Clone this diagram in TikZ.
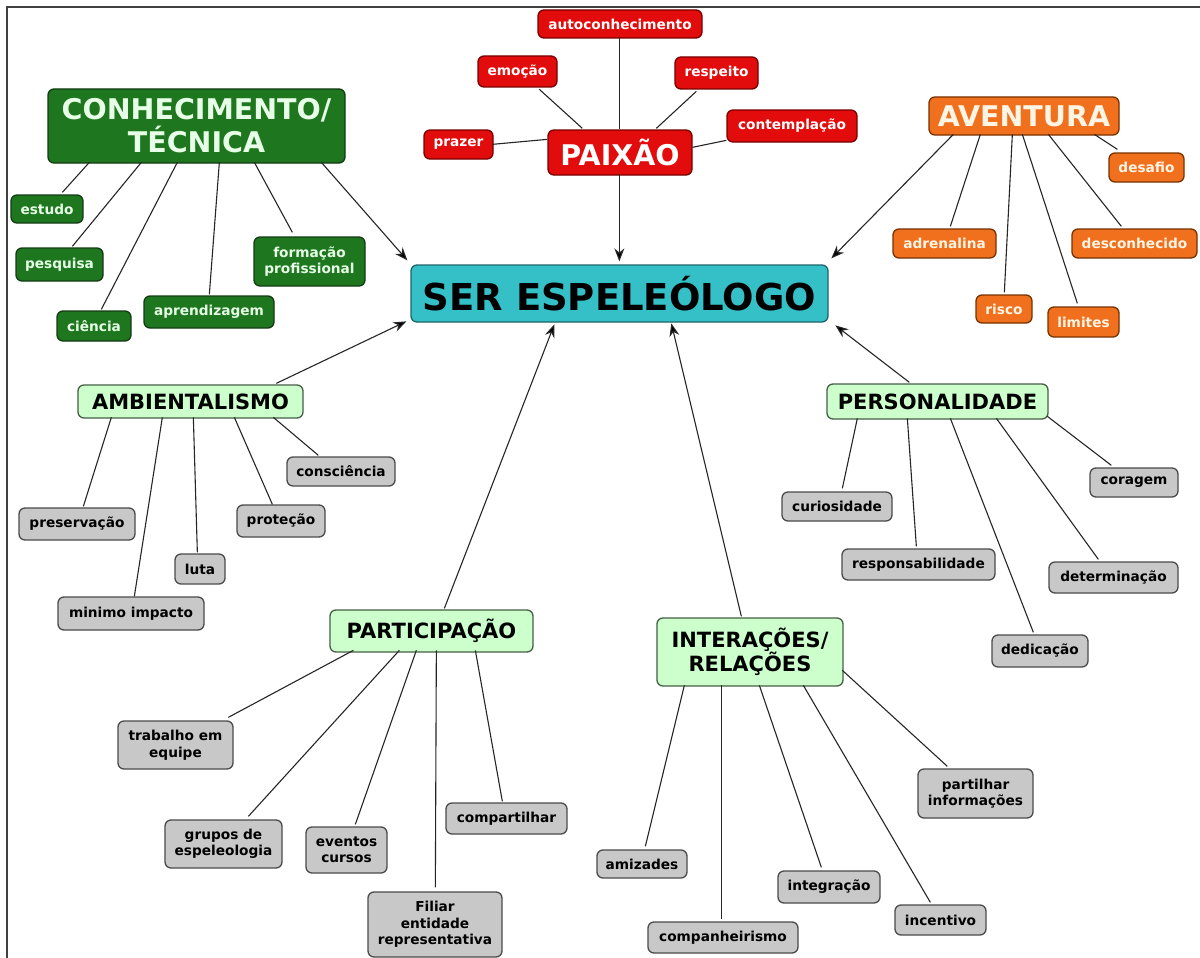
\documentclass[tikz,border=0pt]{standalone}
\usepackage{fontspec}
\setmainfont{DejaVu Sans}
\usetikzlibrary{calc,arrows.meta}
\definecolor{dgF}{RGB}{30,118,30}
\definecolor{dgD}{RGB}{20,60,20}
\definecolor{dgT}{RGB}{230,255,230}
\definecolor{rdF}{RGB}{226,12,12}
\definecolor{rdD}{RGB}{120,0,0}
\definecolor{orF}{RGB}{240,112,30}
\definecolor{orD}{RGB}{120,50,0}
\definecolor{orT}{RGB}{255,245,228}
\definecolor{lgF}{RGB}{204,255,204}
\definecolor{lgD}{RGB}{70,95,70}
\definecolor{gyF}{RGB}{200,200,200}
\definecolor{gyD}{RGB}{75,75,75}
\definecolor{tlF}{RGB}{52,192,198}
\definecolor{tlD}{RGB}{30,100,105}
\tikzset{
  base/.style={rounded corners=6pt, line width=1.3pt, inner sep=0pt, align=center,
    font=\bfseries\fontsize{13.7}{16.5}\selectfont},
  big/.style={font=\bfseries\fontsize{28.5}{33}\selectfont},
  mid/.style={font=\bfseries\fontsize{21}{24}\selectfont},
  huge/.style={font=\bfseries\fontsize{37}{40}\selectfont},
  dgbox/.style={base, fill=dgF, draw=dgD, text=dgT},
  rdbox/.style={base, fill=rdF, draw=rdD, text=white},
  orbox/.style={base, fill=orF, draw=orD, text=orT},
  lgbox/.style={base, fill=lgF, draw=lgD, text=black},
  gybox/.style={base, fill=gyF, draw=gyD, text=black},
  tlbox/.style={base, fill=tlF, draw=tlD, text=black},
  conn/.style={draw=black!85, line width=1.1pt},
  arr/.style={conn, -{Stealth[length=13pt,width=10pt,fill=black]}},
}
\newcommand\bx[7]{\node[#1, minimum width={(#5-#3)*1pt}, minimum height={(#6-#4)*1pt}] (#2) at ({(#3+#5)/2},{(#4+#6)/2}) {#7};}
\newcommand\lk[7][conn]{\draw[#1] ($(#2.north west)+(#3,#4)$) -- ($(#5.north west)+(#6,#7)$);}
\begin{document}
\begin{tikzpicture}[x=1pt,y=-1pt]
\fill[white] (0,0) rectangle (1200,958);
\useasboundingbox (0,0) rectangle (1200,958);
\draw[line width=2pt, black!75] (7,958) -- (7,7) -- (1200,7);

% centre
\bx{tlbox,huge}{ser}{411}{265}{828}{322}{SER ESPELEÓLOGO}

% conhecimento
\bx{dgbox,big}{con}{48}{89}{345}{163}{CONHECIMENTO/\\TÉCNICA}
\bx{dgbox}{estudo}{11}{195}{83}{223}{estudo}
\bx{dgbox}{pesquisa}{16}{248}{103}{281}{pesquisa}
\bx{dgbox}{ciencia}{57}{311}{131}{341}{ciência}
\bx{dgbox}{aprend}{144}{296}{274}{328}{aprendizagem}
\bx{dgbox}{formacao}{254}{237}{365}{286}{formação\\profissional}

% paixao
\bx{rdbox,big}{paixao}{548}{130}{692}{175}{PAIXÃO}
\bx{rdbox}{auto}{538}{10}{702}{38}{autoconhecimento}
\bx{rdbox}{emocao}{478}{56}{557}{87}{emoção}
\bx{rdbox}{respeito}{675}{57}{758}{89}{respeito}
\bx{rdbox}{contemp}{727}{110}{857}{142}{contemplação}
\bx{rdbox}{prazer}{424}{130}{493}{159}{prazer}

% aventura
\bx{orbox,big}{avent}{929}{97}{1119}{135}{AVENTURA}
\bx{orbox}{desafio}{1109}{153}{1184}{182}{desafio}
\bx{orbox}{adren}{893}{229}{996}{258}{adrenalina}
\bx{orbox}{descon}{1072}{229}{1197}{258}{desconhecido}
\bx{orbox}{risco}{976}{295}{1032}{323}{risco}
\bx{orbox}{limites}{1048}{307}{1119}{337}{limites}

% ambientalismo
\bx{lgbox,mid}{amb}{78}{385}{303}{418}{AMBIENTALISMO}
\bx{gybox}{consc}{287}{457}{395}{486}{consciência}
\bx{gybox}{preserv}{19}{508}{135}{540}{preservação}
\bx{gybox}{protecao}{237}{505}{325}{537}{proteção}
\bx{gybox}{luta}{175}{554}{225}{584}{luta}
\bx{gybox}{minimo}{58}{597}{204}{630}{minimo impacto}

% participacao
\bx{lgbox,mid}{part}{330}{610}{533}{652}{PARTICIPAÇÃO}
\bx{gybox}{trab}{118}{721}{233}{769}{trabalho em\\equipe}
\bx{gybox}{grupos}{165}{820}{282}{868}{grupos de\\espeleologia}
\bx{gybox}{eventos}{306}{827}{387}{873}{eventos\\cursos}
\bx{gybox}{compart}{446}{803}{567}{834}{compartilhar}
\bx{gybox}{filiar}{368}{892}{502}{957}{Filiar\\entidade\\representativa}

% interacoes
\bx{lgbox,mid}{inter}{657}{618}{843}{686}{INTERAÇÕES/\\RELAÇÕES}
\bx{gybox}{amiz}{597}{850}{687}{878}{amizades}
\bx{gybox}{compan}{648}{922}{798}{953}{companheirismo}
\bx{gybox}{integ}{778}{871}{880}{903}{integração}
\bx{gybox}{incent}{895}{905}{986}{935}{incentivo}
\bx{gybox}{partil}{918}{769}{1033}{818}{partilhar\\informações}

% personalidade
\bx{lgbox,mid}{pers}{827}{384}{1048}{419}{PERSONALIDADE}
\bx{gybox}{curios}{782}{492}{892}{521}{curiosidade}
\bx{gybox}{respon}{842}{549}{995}{580}{responsabilidade}
\bx{gybox}{coragem}{1090}{468}{1178}{497}{coragem}
\bx{gybox}{determ}{1049}{562}{1178}{593}{determinação}
\bx{gybox}{dedic}{992}{635}{1088}{667}{dedicação}

% links conhecimento
\lk{con}{42}{74}{estudo}{52}{-2}
\lk{con}{94}{74}{pesquisa}{57}{-1}
\lk{con}{130}{74}{ciencia}{45}{-1}
\lk{con}{172}{74}{aprend}{66}{-1}
\lk{con}{207}{74}{formacao}{39}{-4}
\lk[arr]{con}{274}{74}{ser}{-3}{-4}

% links paixao
\lk{auto}{82}{28}{paixao}{72}{0}
\lk{emocao}{62}{34}{paixao}{35}{-1}
\lk{respeito}{22}{35}{paixao}{109}{-1}
\lk{contemp}{0}{31}{paixao}{145}{18}
\lk{prazer}{69}{15}{paixao}{0}{10}
\lk[arr]{paixao}{72}{45}{ser}{209}{-3}

% links aventura
\lk[arr]{avent}{25}{38}{ser}{421}{-6}
\lk{avent}{52}{38}{adren}{58}{-2}
\lk{avent}{84}{38}{risco}{29}{-2}
\lk{avent}{94}{38}{limites}{30}{-3}
\lk{avent}{120}{38}{descon}{50}{-2}
\lk{avent}{166}{38}{desafio}{9}{-3}

% links ambientalismo
\lk{amb}{34}{33}{preserv}{65}{-1}
\lk{amb}{85}{33}{minimo}{77}{0}
\lk{amb}{116}{33}{luta}{23}{-1}
\lk{amb}{157}{33}{protecao}{36}{0}
\lk{amb}{196}{33}{consc}{32}{-1}
\lk[arr]{amb}{199}{-1}{ser}{-4}{57}

% links participacao
\lk{part}{24}{41}{trab}{111}{-3}
\lk{part}{70}{41}{grupos}{84}{-3}
\lk{part}{87}{41}{eventos}{50}{-2}
\lk{part}{107}{41}{filiar}{68}{-4}
\lk{part}{146}{41}{compart}{57}{-1}
\lk[arr]{part}{115}{-1}{ser}{144}{60}

% links interacoes
\lk{inter}{28}{68}{amiz}{49}{-3}
\lk{inter}{65}{68}{compan}{74}{-2}
\lk{inter}{103}{68}{integ}{44}{-3}
\lk{inter}{147}{68}{incent}{36}{-2}
\lk{inter}{186}{53}{partil}{30}{-2}
\lk[arr]{inter}{85}{-1}{ser}{261}{59}

% links personalidade
\lk{pers}{31}{35}{curios}{61}{-3}
\lk{pers}{81}{35}{respon}{75}{-2}
\lk{pers}{124}{35}{dedic}{42}{-2}
\lk{pers}{170}{35}{determ}{50}{-2}
\lk{pers}{221}{33}{coragem}{22}{-2}
\lk[arr]{pers}{83}{-1}{ser}{425}{61}
\end{tikzpicture}
\end{document}
